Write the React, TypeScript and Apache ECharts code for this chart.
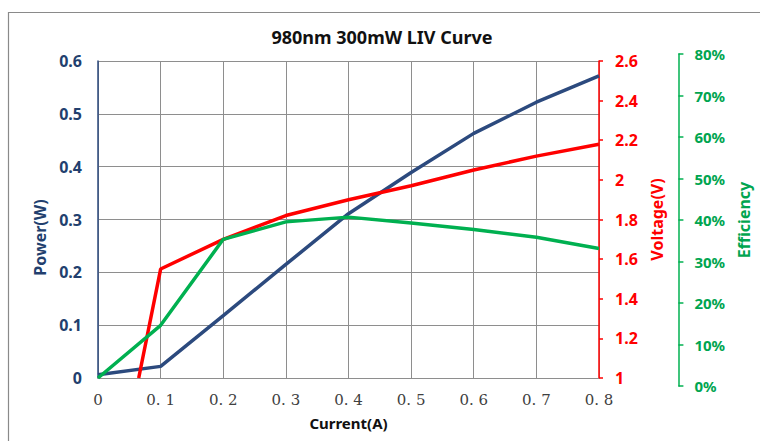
import React, { useEffect, useRef } from "react";
import * as echarts from "echarts";

const titleText = "980nm 300mW LIV Curve";
const currents = [0, 0.1, 0.2, 0.3, 0.4, 0.5, 0.6, 0.7, 0.8];
const powerW = [0.006, 0.022, 0.118, 0.215, 0.311, 0.389, 0.463, 0.522, 0.572];
const voltageCurrents = [0.065, 0.1, 0.2, 0.3, 0.4, 0.5, 0.6, 0.7, 0.8];
const voltageV = [1.0, 1.55, 1.7, 1.82, 1.9, 1.97, 2.05, 2.12, 2.18];
const efficiency = [0.0, 0.133, 0.35, 0.394, 0.406, 0.391, 0.375, 0.355, 0.327];
const xTickLabels = ["0", "0. 1", "0. 2", "0. 3", "0. 4", "0. 5", "0. 6", "0. 7", "0. 8"];

const NAVY = "#2C4A7E";
const NAVY_TEXT = "#223F6E";
const RED = "#FF0000";
const GREEN = "#00B050";
const GREEN_TEXT = "#00A550";
const GRID_GRAY = "#8E8E8E";
const FONT = "'Noto Sans', 'Open Sans', sans-serif";

export default function App() {
  const ref = useRef<HTMLDivElement>(null);
  useEffect(() => {
    document.body.style.margin = "0";
    if (!ref.current) return;
    const chart = echarts.init(ref.current, undefined, { renderer: "svg" });
    const pairs = (xs: number[], ys: number[]) => xs.map((x, i) => [x, ys[i]]);
    chart.setOption({
      animation: false,
      backgroundColor: "#ffffff",
      title: {
        text: titleText,
        left: 377,
        top: 23,
        textAlign: "center",
        textStyle: { fontFamily: FONT, fontSize: 18, fontWeight: "bold", color: "#111" },
      },
      graphic: [
        {
          type: "rect",
          shape: { x: 8.5, y: 12.5, width: 900, height: 600 },
          style: { fill: "none", stroke: "#8a8a8a", lineWidth: 1.2 },
          silent: true,
          z: -1,
        },
      ],
      grid: [
        { left: 98, right: 161, top: 61, bottom: 63, containLabel: false },
        { left: 98, right: 161, top: 54, bottom: 55, containLabel: false },
      ],
      xAxis: [
        {
          type: "value",
          gridIndex: 0,
          min: 0,
          max: 0.8,
          interval: 0.1,
          name: "Current(A)",
          nameLocation: "middle",
          nameGap: 37,
          nameTextStyle: { fontFamily: FONT, fontSize: 15, fontWeight: "bold", color: "#111" },
          axisLine: { show: true, onZero: false, lineStyle: { color: GRID_GRAY, width: 1 } },
          axisTick: { show: false },
          axisLabel: {
            margin: 14,
            fontFamily: "'DejaVu Serif', 'Liberation Serif', serif",
            fontSize: 15,
            color: "#404040",
            formatter: (v: number) => xTickLabels[Math.round(v * 10)] ?? "",
          },
          splitLine: { show: true, lineStyle: { color: GRID_GRAY, width: 1 } },
        },
        {
          type: "value",
          gridIndex: 1,
          min: 0,
          max: 0.8,
          show: false,
        },
      ],
      yAxis: [
        {
          type: "value",
          gridIndex: 0,
          min: 0,
          max: 0.6,
          interval: 0.1,
          position: "left",
          name: "Power(W)",
          nameLocation: "middle",
          nameRotate: 90,
          nameGap: 46,
          nameTextStyle: {
            fontFamily: FONT,
            fontSize: 16,
            fontWeight: "bold",
            color: NAVY_TEXT,
            padding: [0, 36, 0, 0],
          },
          axisLine: { show: true, onZero: false, lineStyle: { color: NAVY, width: 1.5 } },
          axisTick: { show: false },
          axisLabel: {
            margin: 16,
            fontFamily: FONT,
            fontSize: 16,
            fontWeight: "bold",
            color: NAVY_TEXT,
            formatter: (v: number) => (v === 0 ? "0" : v.toFixed(1)),
          },
          splitLine: { show: true, lineStyle: { color: GRID_GRAY, width: 1 } },
        },
        {
          type: "value",
          gridIndex: 0,
          min: 1,
          max: 2.6,
          interval: 0.2,
          position: "right",
          name: "Voltage(V)",
          nameLocation: "middle",
          nameRotate: 90,
          nameGap: 41,
          nameTextStyle: { fontFamily: FONT, fontSize: 16, fontWeight: "bold", color: RED },
          axisLine: { show: true, onZero: false, lineStyle: { color: RED, width: 1.5 } },
          axisTick: { show: true, length: 4, lineStyle: { color: RED, width: 1.5 } },
          axisLabel: {
            margin: 16,
            fontFamily: FONT,
            fontSize: 16,
            fontWeight: "bold",
            color: RED,
            formatter: (v: number) => String(Math.round(v * 10) / 10),
          },
          splitLine: { show: false },
        },
        {
          type: "value",
          gridIndex: 0,
          min: 0,
          max: 0.8,
          show: false,
        },
        {
          type: "value",
          gridIndex: 1,
          min: 0,
          max: 0.8,
          interval: 0.1,
          position: "right",
          offset: 81,
          name: "Efficiency",
          nameLocation: "middle",
          nameRotate: 90,
          nameGap: 53,
          nameTextStyle: { fontFamily: FONT, fontSize: 16, fontWeight: "bold", color: GREEN_TEXT },
          axisLine: { show: true, onZero: false, lineStyle: { color: GREEN, width: 1.5 } },
          axisTick: { show: true, length: 5, lineStyle: { color: GREEN, width: 1.5 } },
          axisLabel: {
            margin: 16,
            fontFamily: FONT,
            fontSize: 15,
            fontWeight: "bold",
            color: GREEN_TEXT,
            formatter: (v: number) => Math.round(v * 100) + "%",
          },
          splitLine: { show: false },
        },
      ],
      series: [
        {
          name: "Power",
          type: "line",
          xAxisIndex: 0,
          yAxisIndex: 0,
          data: pairs(currents, powerW),
          showSymbol: false,
          lineStyle: { color: NAVY, width: 3.5 },
          itemStyle: { color: NAVY },
          z: 3,
        },
        {
          name: "Voltage",
          type: "line",
          xAxisIndex: 0,
          yAxisIndex: 1,
          data: pairs(voltageCurrents, voltageV),
          showSymbol: false,
          lineStyle: { color: RED, width: 3.5 },
          itemStyle: { color: RED },
          z: 4,
        },
        {
          name: "Efficiency",
          type: "line",
          xAxisIndex: 0,
          yAxisIndex: 2,
          data: pairs(currents, efficiency),
          showSymbol: false,
          lineStyle: { color: GREEN, width: 3.5 },
          itemStyle: { color: GREEN },
          z: 5,
        },
      ],
    });
    return () => chart.dispose();
  }, []);
  return <div ref={ref} style={{ width: 760, height: 441 }} />;
}
